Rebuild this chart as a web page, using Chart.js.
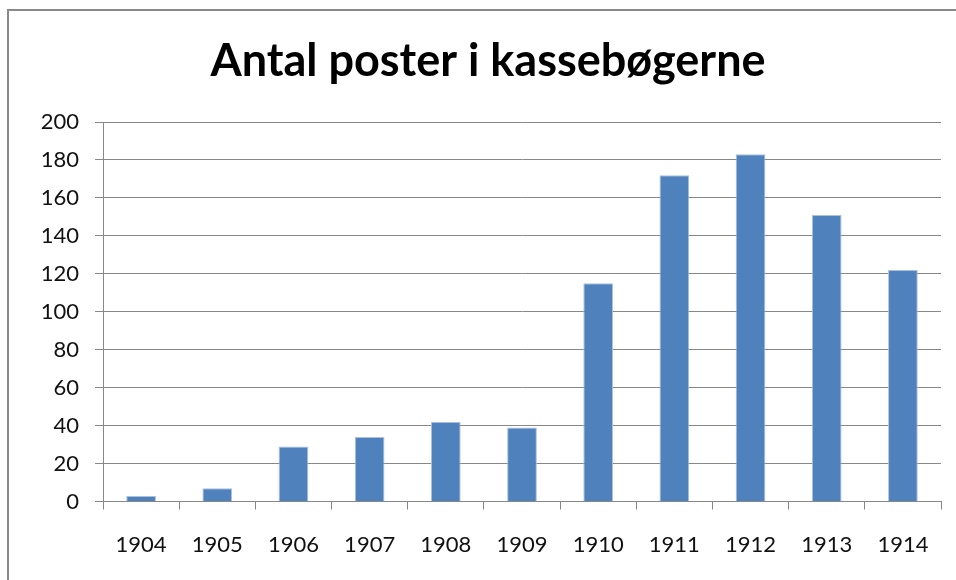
<!DOCTYPE html>
<html>
<head>
<meta charset="utf-8">
<script src="https://cdn.jsdelivr.net/npm/chart.js@4/dist/chart.umd.min.js"></script>
<style>
html,body{margin:0;padding:0;background:#fff;}
#wrap{width:956px;height:580px;position:relative;}
</style>
</head>
<body>
<div id="wrap"><canvas id="c" width="956" height="580"></canvas></div>
<script>
const titleText = "Antal poster i kassebøgerne";
const categories = ["1904","1905","1906","1907","1908","1909","1910","1911","1912","1913","1914"];
const values = [3, 7, 29, 34, 42, 39, 115, 172, 183, 151, 122];
const yMin = 0, yMax = 200, yStep = 20;

const frame = {
  id: 'frame',
  beforeDraw(chart) {
    const ctx = chart.ctx;
    ctx.save();
    ctx.fillStyle = '#ffffff';
    ctx.fillRect(0, 0, chart.width, chart.height);
    ctx.strokeStyle = '#8a8a8a';
    ctx.lineWidth = 2;
    ctx.beginPath();
    ctx.moveTo(8, chart.height);
    ctx.lineTo(8, 10);
    ctx.lineTo(chart.width, 10);
    ctx.stroke();
    ctx.restore();
  }
};

new Chart(document.getElementById('c'), {
  type: 'bar',
  data: {
    labels: categories,
    datasets: [{
      data: values,
      backgroundColor: '#4f81bd',
      borderColor: '#a9c1df',
      borderWidth: 1,
      barPercentage: 0.39,
      categoryPercentage: 1.0
    }]
  },
  options: {
    responsive: false,
    animation: false,
    layout: { padding: { top: 0, right: 15, bottom: 0, left: 35 } },
    plugins: {
      legend: { display: false },
      tooltip: { enabled: false },
      title: {
        display: true,
        text: titleText,
        color: '#000',
        font: { family: 'Lato', size: 45, weight: 'bold', lineHeight: 1.2 },
        padding: { top: 34, bottom: 34 }
      }
    },
    scales: {
      x: {
        grid: { drawOnChartArea: false, drawTicks: true, tickLength: 8, color: '#878787', lineWidth: 1 },
        border: { display: true, color: '#878787', width: 1 },
        ticks: { color: '#111', font: { family: 'Lato', size: 22 }, padding: 22, maxRotation: 0 }
      },
      y: {
        min: yMin, max: yMax,
        afterFit(scale) { scale.width = 68; },
        grid: { color: '#878787', lineWidth: 1, tickLength: 8 },
        border: { display: true, color: '#878787', width: 1 },
        ticks: { stepSize: yStep, color: '#111', font: { family: 'Lato', size: 22 }, padding: 16 }
      }
    }
  },
  plugins: [frame]
});
</script>
</body>
</html>
